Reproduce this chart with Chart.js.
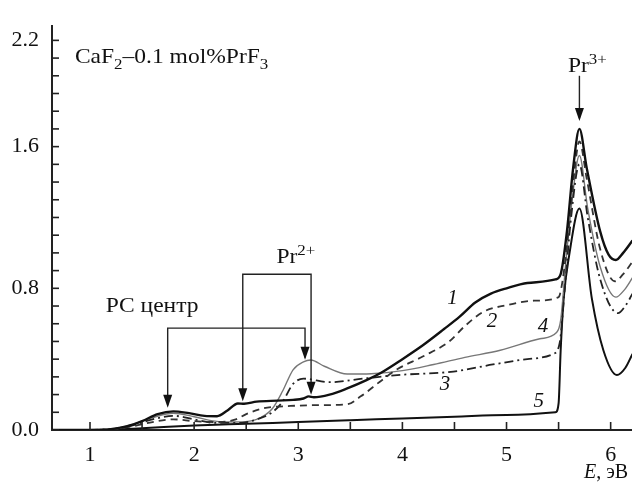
<!DOCTYPE html>
<html>
<head>
<meta charset="utf-8">
<script src="https://cdn.jsdelivr.net/npm/chart.js@4.4.0/dist/chart.umd.min.js"></script>
<style>
  html, body { margin: 0; padding: 0; background: #fff; }
  canvas { display: block; }
</style>
</head>
<body>
<canvas id="grafico" width="632" height="486"></canvas>
<script>
// ticks dos eixos
const xTicks = [1, 1.5, 2, 2.5, 3, 3.5, 4, 4.5, 5, 5.5, 6];
const xLabels = [1, 2, 3, 4, 5, 6];
const yTicks = [0, 0.1, 0.2, 0.3, 0.4, 0.5, 0.6, 0.7, 0.8, 0.9, 1.0, 1.1, 1.2, 1.3, 1.4, 1.5, 1.6, 1.7, 1.8, 1.9, 2.0, 2.1, 2.2];
const yLabels = [0, 0.8, 1.6, 2.2];

// curva 1 (sólida grossa)
const e1 = [0.63, 1.0, 1.2, 1.35, 1.5, 1.65, 1.8, 1.95, 2.1, 2.22, 2.32, 2.42, 2.48, 2.6, 2.8, 2.95, 3.05, 3.1, 3.15, 3.3, 3.47, 3.65, 3.8, 4.0, 4.2, 4.4, 4.55, 4.7, 4.85, 5.0, 5.2, 5.47, 5.52, 5.58, 5.64, 5.70, 5.77, 5.90, 5.98, 6.05, 6.12, 6.21];
const i1 = [0.0, 0.0, 0.005, 0.02, 0.05, 0.09, 0.105, 0.095, 0.08, 0.078, 0.11, 0.15, 0.148, 0.16, 0.166, 0.17, 0.178, 0.19, 0.185, 0.2, 0.235, 0.28, 0.325, 0.4, 0.48, 0.57, 0.64, 0.72, 0.77, 0.8, 0.83, 0.85, 0.88, 1.12, 1.48, 1.70, 1.48, 1.12, 0.99, 0.96, 1.0, 1.07];

// curva 2 (tracejada)
const e2 = [0.63, 1.2, 1.4, 1.6, 1.8, 2.0, 2.2, 2.4, 2.5, 2.65, 2.75, 2.9, 3.15, 3.47, 3.6, 3.8, 3.95, 4.2, 4.45, 4.6, 4.78, 5.0, 5.26, 5.5, 5.54, 5.6, 5.65, 5.70, 5.77, 5.9, 6.04, 6.12, 6.21];
const i2 = [0.0, 0.003, 0.02, 0.045, 0.06, 0.05, 0.045, 0.06, 0.09, 0.12, 0.13, 0.135, 0.14, 0.145, 0.19, 0.28, 0.343, 0.416, 0.5, 0.587, 0.668, 0.705, 0.73, 0.75, 0.85, 1.15, 1.45, 1.63, 1.42, 1.02, 0.84, 0.88, 0.95];

// curva 3 (traço-ponto)
const e3 = [0.63, 1.2, 1.4, 1.6, 1.8, 2.0, 2.2, 2.45, 2.6, 2.75, 2.85, 2.95, 3.05, 3.3, 3.62, 3.95, 4.49, 4.87, 5.2, 5.45, 5.51, 5.56, 5.62, 5.70, 5.78, 5.9, 6.07, 6.14, 6.21];
const i3 = [0.0, 0.004, 0.025, 0.06, 0.08, 0.06, 0.04, 0.04, 0.06, 0.1, 0.16, 0.26, 0.29, 0.27, 0.29, 0.31, 0.33, 0.37, 0.4, 0.43, 0.49, 0.8, 1.2, 1.50, 1.2, 0.85, 0.66, 0.7, 0.77];

// curva 4 (fina cinza)
const e4 = [0.63, 1.2, 1.4, 1.6, 1.8, 2.0, 2.2, 2.4, 2.6, 2.75, 2.85, 2.95, 3.05, 3.12, 3.25, 3.47, 3.7, 4.0, 4.3, 4.6, 4.94, 5.32, 5.48, 5.52, 5.57, 5.63, 5.70, 5.78, 5.9, 6.05, 6.13, 6.21];
const i4 = [0.0, 0.005, 0.03, 0.07, 0.095, 0.075, 0.05, 0.045, 0.06, 0.12, 0.22, 0.34, 0.385, 0.395, 0.36, 0.316, 0.318, 0.335, 0.37, 0.41, 0.45, 0.515, 0.55, 0.62, 0.95, 1.3, 1.55, 1.25, 0.92, 0.75, 0.79, 0.86];

// curva 5 (sólida baixa)
const e5 = [0.63, 1.2, 1.5, 2.0, 2.5, 3.0, 3.5, 4.0, 4.5, 5.0, 5.47, 5.50, 5.52, 5.55, 5.6, 5.70, 5.82, 5.93, 6.06, 6.14, 6.21];
const i5 = [0.0, 0.002, 0.01, 0.025, 0.035, 0.045, 0.055, 0.065, 0.075, 0.085, 0.10, 0.15, 0.45, 0.75, 0.98, 1.25, 0.74, 0.45, 0.31, 0.35, 0.43];

const serif = '"Liberation Serif", "DejaVu Serif", serif';
const tamTexto = 21;
const esticar = 1.12; // o texto do original é um pouco mais largo

const pontos = (es, is) => es.map((e, k) => ({ x: e, y: is[k] }));

// escreve texto com partes normais, itálicas, sub e sobrescritas
function escrever(ctx, x, y, partes, tam, esc = esticar) {
  ctx.save();
  ctx.translate(x, y);
  ctx.scale(esc, 1);
  let cx = 0;
  partes.forEach(([t, tipo]) => {
    let dy = 0, f = tam, estilo = '';
    if (tipo === 'sub') { f = tam * 0.72; dy = tam * 0.28; }
    if (tipo === 'sup') { f = tam * 0.72; dy = -tam * 0.38; }
    if (tipo === 'i') estilo = 'italic ';
    ctx.font = `${estilo}${f}px ${serif}`;
    ctx.fillText(t, cx, dy);
    cx += ctx.measureText(t).width;
  });
  ctx.restore();
}

function ponta(ctx, x, y) {
  ctx.beginPath();
  ctx.moveTo(x, y);
  ctx.lineTo(x - 4.5, y - 13);
  ctx.lineTo(x + 4.5, y - 13);
  ctx.closePath();
  ctx.fill();
}

const anotacoes = {
  id: 'anotacoes',
  afterDraw(chart) {
    const ctx = chart.ctx;
    const sx = chart.scales.x, sy = chart.scales.y;
    const px = v => sx.getPixelForValue(v);
    const py = v => sy.getPixelForValue(v);
    const area = chart.chartArea;

    ctx.save();
    ctx.strokeStyle = '#222';
    ctx.fillStyle = '#111';
    ctx.lineWidth = 1.6;

    // ticks para dentro
    xTicks.forEach(v => {
      ctx.beginPath();
      ctx.moveTo(px(v), area.bottom);
      ctx.lineTo(px(v), area.bottom - 8);
      ctx.stroke();
    });
    yTicks.forEach(v => {
      ctx.beginPath();
      ctx.moveTo(area.left, py(v));
      ctx.lineTo(area.left + 7, py(v));
      ctx.stroke();
    });

    ctx.lineWidth = 1.4;
    ctx.textBaseline = 'alphabetic';
    ctx.textAlign = 'left';

    // título da amostra
    escrever(ctx, px(0.855), py(2.07), [['CaF', 'n'], ['2', 'sub'], ['–0.1 mol%PrF', 'n'], ['3', 'sub']], tamTexto);

    // Pr3+
    escrever(ctx, px(5.59), py(2.02), [['Pr', 'n'], ['3+', 'sup']], tamTexto);
    ctx.beginPath();
    ctx.moveTo(px(5.70), py(2.0));
    ctx.lineTo(px(5.70), py(1.76));
    ctx.stroke();
    ponta(ctx, px(5.70), py(1.745));

    // Pr2+ colchete
    escrever(ctx, px(2.79), py(0.945), [['Pr', 'n'], ['2+', 'sup']], tamTexto);
    ctx.beginPath();
    ctx.moveTo(px(2.467), py(0.18));
    ctx.lineTo(px(2.467), py(0.879));
    ctx.lineTo(px(3.123), py(0.879));
    ctx.lineTo(px(3.123), py(0.215));
    ctx.stroke();
    ponta(ctx, px(2.467), py(0.163));
    ponta(ctx, px(3.123), py(0.199));

    // РС центр colchete
    escrever(ctx, px(1.15), py(0.665), [['РС центр', 'n']], tamTexto);
    ctx.beginPath();
    ctx.moveTo(px(1.746), py(0.14));
    ctx.lineTo(px(1.746), py(0.575));
    ctx.lineTo(px(3.065), py(0.575));
    ctx.lineTo(px(3.065), py(0.41));
    ctx.stroke();
    ponta(ctx, px(1.746), py(0.126));
    ponta(ctx, px(3.065), py(0.397));

    // números das curvas
    ctx.textAlign = 'center';
    ctx.textBaseline = 'middle';
    ctx.font = `italic ${tamTexto}px ${serif}`;
    [['1', 4.48, 0.743], ['2', 4.86, 0.613], ['4', 5.35, 0.586], ['3', 4.41, 0.255], ['5', 5.31, 0.163]]
      .forEach(([t, e, v]) => ctx.fillText(t, px(e), py(v)));

    // título do eixo x
    ctx.textAlign = 'left';
    ctx.textBaseline = 'alphabetic';
    escrever(ctx, 584, 478, [['E', 'i'], [', эВ', 'n']], 20, 1);
    ctx.restore();
  }
};

const estilos = [
  { label: '1', data: pontos(e1, i1), borderColor: '#111', borderWidth: 2.4 },
  { label: '2', data: pontos(e2, i2), borderColor: '#333', borderWidth: 1.8, borderDash: [7, 5] },
  { label: '3', data: pontos(e3, i3), borderColor: '#222', borderWidth: 1.8, borderDash: [9, 4, 2, 4] },
  { label: '4', data: pontos(e4, i4), borderColor: '#777', borderWidth: 1.4 },
  { label: '5', data: pontos(e5, i5), borderColor: '#111', borderWidth: 2 }
];

new Chart(document.getElementById('grafico').getContext('2d'), {
  type: 'line',
  data: {
    datasets: estilos.map(d => ({ ...d, pointRadius: 0, fill: false, cubicInterpolationMode: 'monotone' }))
  },
  options: {
    responsive: false,
    animation: false,
    devicePixelRatio: 1,
    layout: { padding: { top: 10, right: 0, left: 0, bottom: 0 } },
    plugins: { legend: { display: false }, tooltip: { enabled: false } },
    scales: {
      x: {
        type: 'linear',
        min: 0.635,
        max: 6.205,
        afterBuildTicks: s => { s.ticks = xTicks.map(v => ({ value: v })); },
        afterFit: s => { s.height = 56; },
        grid: { display: false, drawTicks: false },
        border: { display: true, color: '#222', width: 2 },
        ticks: {
          autoSkip: false,
          maxRotation: 0,
          padding: 12,
          color: '#111',
          font: { family: serif, size: 22 },
          callback: v => xLabels.includes(v) ? String(v) : ''
        }
      },
      y: {
        min: 0,
        max: 2.28,
        afterBuildTicks: s => { s.ticks = yTicks.map(v => ({ value: v })); },
        afterFit: s => { s.width = 52; },
        grid: { display: false, drawTicks: false },
        border: { display: true, color: '#222', width: 2 },
        ticks: {
          autoSkip: false,
          padding: 13,
          color: '#111',
          font: { family: serif, size: 22 },
          callback: v => yLabels.some(l => Math.abs(l - v) < 1e-6) ? v.toFixed(1) : ''
        }
      }
    }
  },
  plugins: [anotacoes]
});
</script>
</body>
</html>
